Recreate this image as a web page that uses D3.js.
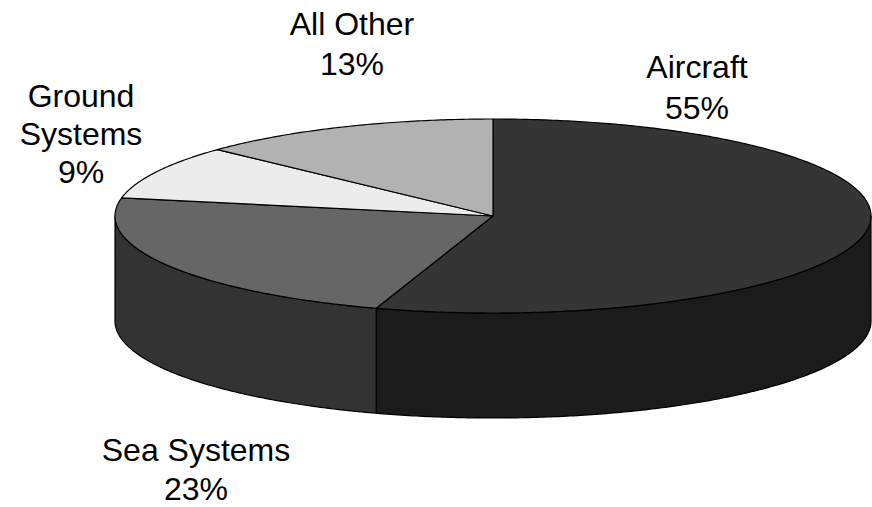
<!DOCTYPE html>
<html>
<head>
<meta charset="utf-8">
<script src="https://cdn.jsdelivr.net/npm/d3@7"></script>
<style>
  html, body { margin: 0; padding: 0; background: #fff; }
  svg { display: block; }
  text { font-family: "Liberation Sans", Arial, sans-serif; font-size: 32px; fill: #000; }
</style>
</head>
<body>
<svg id="chart" width="872" height="507"></svg>
<script>
// Share of spending by segment (percent)
const categories = ["Aircraft", "Sea Systems", "Ground Systems", "All Other"];
const values = [55, 23, 9, 13];
const topColors = ["#353535", "#666666", "#ececec", "#b2b2b2"];
const sideColors = ["#1b1b1b", "#333333", "#bdbdbd", "#8a8a8a"];
const labelLines = [["Aircraft", "55%"], ["Sea Systems", "23%"], ["Ground", "Systems", "9%"], ["All Other", "13%"]];

const svg = d3.select("#chart");
const cx = 493, cy = 216, rx = 378, ry = 97, depth = 105;

// Map an angle (0 at top, clockwise) onto the tilted ellipse
const px = a => cx + rx * Math.sin(a);
const py = (a, dy = 0) => cy - ry * Math.cos(a) + dy;

const pie = d3.pie().sort(null).value(d => d)(values);

function arcPoints(a0, a1, dy) {
  const n = Math.max(2, Math.ceil(Math.abs(a1 - a0) / 0.01));
  return d3.range(n + 1).map(i => {
    const a = a0 + (a1 - a0) * i / n;
    return [px(a), py(a, dy)];
  });
}

const line = d3.line();

// Side walls: only the front half (from 90° to 270°) is visible
const g = svg.append("g");
const front0 = Math.PI / 2, front1 = 3 * Math.PI / 2;
pie.forEach((s, i) => {
  const a0 = Math.max(s.startAngle, front0);
  const a1 = Math.min(s.endAngle, front1);
  if (a1 <= a0) return;
  const pts = arcPoints(a0, a1, 0).concat(arcPoints(a1, a0, depth));
  g.append("path")
    .attr("d", line(pts) + "Z")
    .attr("fill", sideColors[i])
    .attr("stroke", "#000")
    .attr("stroke-width", 1.2)
    .attr("stroke-linejoin", "round");
});

// Top faces
pie.forEach((s, i) => {
  const pts = [[cx, cy]].concat(arcPoints(s.startAngle, s.endAngle, 0));
  g.append("path")
    .attr("d", line(pts) + "Z")
    .attr("fill", topColors[i])
    .attr("stroke", "#000")
    .attr("stroke-width", 1.2)
    .attr("stroke-linejoin", "round");
});

// Labels
const labelPos = [
  { x: 697, y: 78 },
  { x: 196, y: 461 },
  { x: 81, y: 107 },
  { x: 352, y: 35 }
];
const lineHeight = [41, 39, 38, 40];
labelLines.forEach((lines, i) => {
  const t = svg.append("text")
    .attr("text-anchor", "middle")
    .attr("x", labelPos[i].x)
    .attr("y", labelPos[i].y);
  lines.forEach((s, j) => {
    t.append("tspan")
      .attr("x", labelPos[i].x)
      .attr("y", labelPos[i].y + j * lineHeight[i])
      .text(s);
  });
});
</script>
</body>
</html>
